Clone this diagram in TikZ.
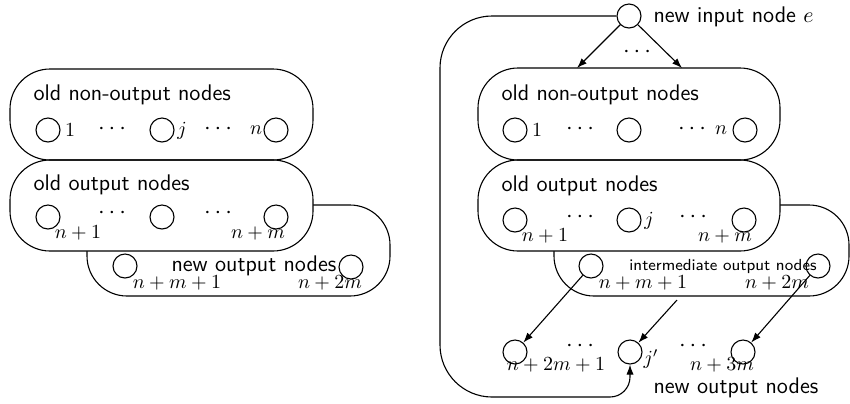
\documentclass[tikz,border=0pt]{standalone}
\usetikzlibrary{arrows.meta}
\begin{document}
\begin{tikzpicture}[x=0.5pt,y=-0.5pt, line width=0.55pt,
  grp/.style={draw, rounded corners=20pt},
  circ/.style={draw, circle, minimum size=12pt, inner sep=0pt},
  lbl/.style={inner sep=0pt},
  dts/.style={inner sep=0pt, font=\fontsize{12}{14}\selectfont},
  txt/.style={inner sep=0pt, font=\sffamily\fontsize{11.3}{13}\selectfont},
  arr/.style={-{Latex[length=5pt,width=3.6pt]}}
]
\useasboundingbox (0,0) rectangle (850,403);

% ---------------- left diagram ----------------
\draw[grp] (87,205) rectangle (390,296);
\draw[grp, fill=white] (10,160) rectangle (313,251);
\draw[grp] (10,69) rectangle (313,160);

\node[txt, anchor=base west] (Lt1) at (33,100) {old non-output nodes};
\node[txt, anchor=base west] (Lt2) at (33,190) {old output nodes};
\node[txt, anchor=base west] (Lt3) at (171,271) {new output nodes};

\node[circ] (La1) at (48,130) {};
\node[circ] (Laj) at (162,130) {};
\node[circ] (Lan) at (276,130) {};
\node[lbl] (La1l) at (70,130) {$1$};
\node[lbl] (Lajl) at (182,131) {$j$};
\node[lbl] (Lanl) at (256,130) {$n$};
\node[dts] (Lad1) at (112,129) {$\cdots$};
\node[dts] (Lad2) at (218,129) {$\cdots$};

\node[circ] (Lb1) at (48,217) {};
\node[circ] (Lbj) at (162,217) {};
\node[circ] (Lbm) at (276,217) {};
\node[lbl] (Lb1l) at (78,233) {$n+1$};
\node[lbl] (Lbml) at (258,233) {$n+m$};
\node[dts] (Lbd1) at (112,213) {$\cdots$};
\node[dts] (Lbd2) at (218,213) {$\cdots$};

\node[circ] (Lc1) at (125,266) {};
\node[circ] (Lc2) at (351,267) {};
\node[lbl] (Lc1l) at (177,283) {$n+m+1$};
\node[lbl] (Lc2l) at (330,283) {$n+2m$};

% ---------------- right diagram ----------------
\draw[grp] (554,205) rectangle (849,296);
\draw[grp, fill=white] (478,160) rectangle (780,251);
\draw[grp] (478,68) rectangle (780,160);

\node[circ] (e) at (629,16) {};
\node[txt, anchor=base west] (et) at (653,22) {new input node $e$};
\coordinate (t1) at (577,68);
\coordinate (t2) at (682,68);
\draw[arr] (e) -- (t1);
\draw[arr] (e) -- (t2);
\node[dts] (ed) at (637,52) {$\cdots$};

\node[txt, anchor=base west] (Rt1) at (501,100) {old non-output nodes};
\node[txt, anchor=base west] (Rt2) at (501,191) {old output nodes};
\node[anchor=base, font=\sffamily\footnotesize, inner sep=0pt] (Rt3) at (723,270) {intermediate output nodes};
\node[txt, anchor=base west] (Rt4) at (653,393) {new output nodes};

\node[circ] (Ra1) at (515,130) {};
\node[circ] (Raj) at (629,130) {};
\node[circ] (Ran) at (745,130) {};
\node[lbl] (Ra1l) at (537,130) {$1$};
\node[lbl] (Ranl) at (721,130) {$n$};
\node[dts] (Rad1) at (580,129) {$\cdots$};
\node[dts] (Rad2) at (692,129) {$\cdots$};

\node[circ] (Rb1) at (515,220) {};
\node[circ] (Rbj) at (629,220) {};
\node[circ] (Rbm) at (744,220) {};
\node[lbl] (Rb1l) at (545,236) {$n+1$};
\node[lbl] (Rbjl) at (649,221) {$j$};
\node[lbl] (Rbml) at (725,236) {$n+m$};
\node[dts] (Rbd1) at (580,217) {$\cdots$};
\node[dts] (Rbd2) at (693,217) {$\cdots$};

\node[circ] (Rc1) at (591,266) {};
\node[circ] (Rc2) at (818,266) {};
\node[lbl] (Rc1l) at (643,283) {$n+m+1$};
\node[lbl] (Rc2l) at (777,283) {$n+2m$};

\node[circ] (Rd1) at (515,352) {};
\node[circ] (Rdj) at (630,352) {};
\node[circ] (Rdm) at (743,352) {};
\node[lbl] (Rd1l) at (556,365) {$n+2m+1$};
\node[lbl] (Rdjl) at (651,359) {$j'$};
\node[lbl] (Rdml) at (722,365) {$n+3m$};
\node[dts] (Rdd1) at (580,346) {$\cdots$};
\node[dts] (Rdd2) at (693,346) {$\cdots$};

\coordinate (s) at (677,300);
\draw[arr] (Rc1) -- (Rd1);
\draw[arr] (s) -- (Rdj);
\draw[arr] (Rc2) -- (Rdm);

\draw[arr] (e.west) [rounded corners=26pt] -- (440,16) -- (440,397) [rounded corners=10pt] -- (630,397) -- (Rdj.south);
\end{tikzpicture}
\end{document}
